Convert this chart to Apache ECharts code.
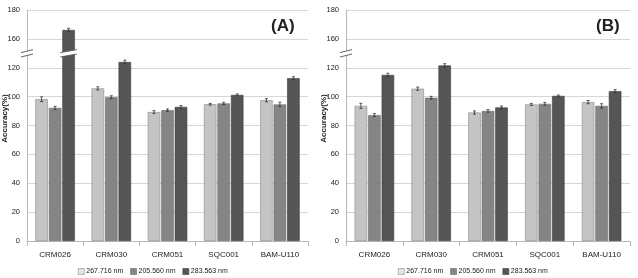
<!DOCTYPE html>
<html>
<head>
<meta charset="utf-8">
<script src="https://cdn.jsdelivr.net/npm/echarts@6/dist/echarts.min.js"></script>
<style>
  html, body { margin: 0; padding: 0; background: #fff; }
  #main { width: 638px; height: 278px; }
</style>
</head>
<body>
<div id="main"></div>
<script>
const categories = ['CRM026', 'CRM030', 'CRM051', 'SQC001', 'BAM-U110'];
const seriesNames = ['267.716 nm', '205.560 nm', '283.563 nm'];

// panel (A)
const a267 = [98.2, 105.7, 89.3, 94.7, 97.5];
const a205 = [92.2, 99.6, 90.6, 95.3, 94.6];
const a283 = [166.2, 124.0, 92.9, 101.2, 112.8];
const a267Err = [1.6, 1.1, 1.0, 0.6, 1.1];
const a205Err = [1.0, 1.0, 0.8, 0.8, 1.5];
const a283Err = [1.1, 1.3, 0.9, 0.7, 1.0];

// panel (B)
const b267 = [93.6, 105.5, 89.0, 94.6, 96.2];
const b205 = [87.2, 99.2, 90.1, 95.0, 93.6];
const b283 = [115.0, 121.6, 92.5, 100.5, 103.8];
const b267Err = [1.8, 1.1, 1.1, 0.7, 1.1];
const b205Err = [1.0, 1.0, 0.9, 1.0, 1.5];
const b283Err = [1.2, 1.2, 1.0, 0.6, 1.0];

const colors = ['#c4c4c4', '#858585', '#555555'];
const borders = ['#8a8a8a', '#6a6a6a', '#3c3c3c'];
const FONT = "'Liberation Sans Narrow', 'Liberation Sans', sans-serif";

// broken axis: values between 130 and 150 are cut out
const BREAK = 130;
const GAP = 20;
const toAxis = v => (v > BREAK ? v - GAP : v);
const tickLabel = v => (v > 120 ? v + GAP : v);

const BAR_W = 12.5;
const BAR_GAP = 1;

const chart = echarts.init(document.getElementById('main'));

function barSeries(panel, vals) {
  return vals.map((arr, i) => ({
    name: seriesNames[i],
    type: 'bar',
    xAxisIndex: panel,
    yAxisIndex: panel,
    barWidth: BAR_W,
    barGap: (BAR_GAP / BAR_W * 100) + '%',
    itemStyle: { color: colors[i], borderColor: borders[i], borderWidth: 0.6 },
    data: arr.map(toAxis),
    z: 2
  }));
}

function errSeries(panel, vals, errs) {
  return vals.map((arr, i) => ({
    type: 'custom',
    xAxisIndex: panel,
    yAxisIndex: panel,
    silent: true,
    z: 5,
    data: arr.map((v, k) => [k, toAxis(v - errs[i][k]), toAxis(v + errs[i][k])]),
    encode: { x: 0, y: [1, 2] },
    renderItem: (params, api) => {
      const cx = api.coord([api.value(0), 0])[0] + (i - 1) * (BAR_W + BAR_GAP);
      const lo = api.coord([api.value(0), api.value(1)])[1];
      const hi = api.coord([api.value(0), api.value(2)])[1];
      const st = { stroke: '#333', lineWidth: 0.8 };
      return {
        type: 'group',
        children: [
          { type: 'line', shape: { x1: cx, y1: lo, x2: cx, y2: hi }, style: st },
          { type: 'line', shape: { x1: cx - 1.5, y1: lo, x2: cx + 1.5, y2: lo }, style: st },
          { type: 'line', shape: { x1: cx - 1.5, y1: hi, x2: cx + 1.5, y2: hi }, style: st }
        ]
      };
    }
  }));
}

const grids = [
  { left: 27, right: 330, top: 10, bottom: 37, containLabel: false, outerBoundsMode: 'none' },
  { left: 346, right: 8, top: 10, bottom: 37, containLabel: false, outerBoundsMode: 'none' }
];

const xAxes = grids.map((g, i) => ({
  type: 'category',
  gridIndex: i,
  data: categories,
  axisLine: { lineStyle: { color: '#b8b8b8' } },
  axisTick: { show: true, length: 5, lineStyle: { color: '#b8b8b8' } },
  axisLabel: { color: '#222', fontSize: 8, fontFamily: FONT, margin: 10 }
}));

const yAxes = grids.map((g, i) => ({
  type: 'value',
  gridIndex: i,
  min: 0,
  max: 160,
  interval: 20,
  name: 'Accuracy(%)',
  nameLocation: 'middle',
  nameGap: 18,
  nameMoveOverlap: false,
  nameTextStyle: { fontSize: 8, fontWeight: 'bold', color: '#222', fontFamily: FONT, padding: [0, 0, 0, 14] },
  axisLine: { show: true, lineStyle: { color: '#b8b8b8' } },
  axisTick: { show: false },
  splitLine: { lineStyle: { color: '#d6d6d6' } },
  axisLabel: { color: '#222', fontSize: 7.5, fontFamily: FONT, margin: 7, formatter: tickLabel }
}));

const legendData = seriesNames.map((n, i) => ({
  name: n,
  itemStyle: { color: i === 0 ? '#e4e4e4' : colors[i], borderColor: borders[i], borderWidth: 0.6 }
}));

const legendBase = {
  top: 268, data: legendData, icon: 'rect', itemWidth: 6, itemHeight: 6, itemGap: 7, padding: 0,
  textStyle: { fontSize: 7, color: '#222', fontFamily: FONT, padding: [0, 0, 0, -3] }
};

chart.setOption({
  animation: false,
  textStyle: { fontFamily: FONT },
  title: [
    { text: '(A)', left: 271, top: 18, padding: 0, textStyle: { fontSize: 17, fontWeight: 'bold', color: '#222', fontFamily: 'Liberation Sans' } },
    { text: '(B)', left: 596, top: 18, padding: 0, textStyle: { fontSize: 17, fontWeight: 'bold', color: '#222', fontFamily: 'Liberation Sans' } }
  ],
  legend: [
    Object.assign({ left: 78 }, legendBase),
    Object.assign({ left: 398 }, legendBase)
  ],
  grid: grids,
  xAxis: xAxes,
  yAxis: yAxes,
  series: [
    ...barSeries(0, [a267, a205, a283]),
    ...barSeries(1, [b267, b205, b283]),
    ...errSeries(0, [a267, a205, a283], [a267Err, a205Err, a283Err]),
    ...errSeries(1, [b267, b205, b283], [b267Err, b205Err, b283Err])
  ]
});

// break marks on the y axes (and across any bar that crosses the break)
function breakMark(x, y, w) {
  const d = 1.5; // slant
  const h = 2.2; // half gap
  return [
    { type: 'polygon', z: 100, shape: { points: [[x - w / 2, y + h + d], [x + w / 2, y + h - d], [x + w / 2, y - h - d], [x - w / 2, y - h + d]] },
      style: { fill: '#fff' } },
    { type: 'line', z: 101, shape: { x1: x - w / 2, y1: y + h + d, x2: x + w / 2, y2: y + h - d }, style: { stroke: '#555', lineWidth: 0.9 } },
    { type: 'line', z: 101, shape: { x1: x - w / 2, y1: y - h + d, x2: x + w / 2, y2: y - h - d }, style: { stroke: '#555', lineWidth: 0.9 } }
  ];
}

const marks = [];
const panels = [[a267, a205, a283], [b267, b205, b283]];
panels.forEach((vals, p) => {
  const y = chart.convertToPixel({ yAxisIndex: p }, BREAK);
  const axisX = grids[p].left;
  marks.push(...breakMark(axisX, y, 12));
  vals.forEach((arr, i) => {
    arr.forEach((v, k) => {
      if (v > BREAK + GAP) {
        const cx = chart.convertToPixel({ xAxisIndex: p }, categories[k]) + (i - 1) * (BAR_W + BAR_GAP);
        marks.push(...breakMark(cx, y, BAR_W + 4));
      }
    });
  });
});
chart.setOption({ graphic: marks });
</script>
</body>
</html>
